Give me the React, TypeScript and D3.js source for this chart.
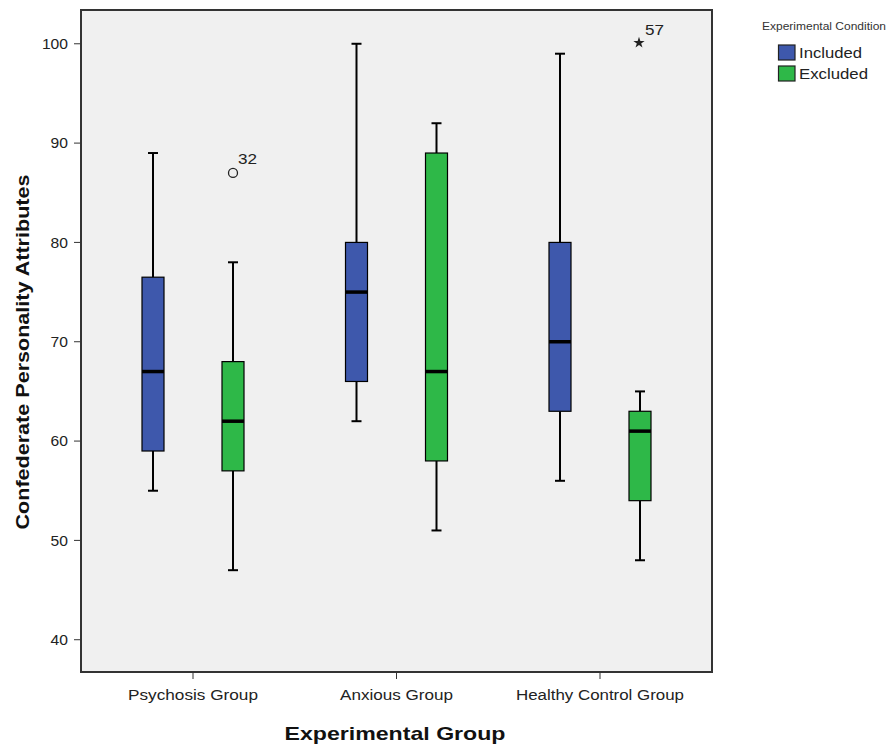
import React from "react";
import * as d3 from "d3";

const groups = ["Psychosis Group", "Anxious Group", "Healthy Control Group"];
const groupLabelWidths = [130, 113, 168];
const conditions = ["Included", "Excluded"];
const conditionColors = ["#3e58ac", "#2eb848"];
// [group, condition, whiskerLow, q1, median, q3, whiskerHigh]
const boxStats: [number, number, number, number, number, number, number][] = [
  [0, 0, 55, 59, 67, 76.5, 89],
  [0, 1, 47, 57, 62, 68, 78],
  [1, 0, 62, 66, 75, 80, 100],
  [1, 1, 51, 58, 67, 89, 92],
  [2, 0, 56, 63, 70, 80, 99],
  [2, 1, 48, 54, 61, 63, 65],
];
// [group, condition, value, label, type]
const outliers: [number, number, number, string, string][] = [
  [0, 1, 87, "32", "circle"],
  [2, 1, 100, "57", "star"],
];
const yTicks = [40, 50, 60, 70, 80, 90, 100];

export default function App() {
  const W = 888, H = 745;
  const left = 81, right = 712, top = 10, bottom = 672;
  const y = d3.scaleLinear().domain([36.75, 103.4]).range([bottom, top]);
  const x = d3.scalePoint<string>().domain(groups).range([193, 600]);
  const off = 40, bw = 22, cap = 5;
  const font = "Arial, 'Liberation Sans', sans-serif";
  const star = d3.symbol().type(d3.symbolStar).size(40)() as string;

  return (
    <svg width={W} height={H} style={{ position: "absolute", left: 0, top: 0 }} fontFamily={font}>
      <rect x={0} y={0} width={W} height={H} fill="#fff" />
      <rect x={left} y={top} width={right - left} height={bottom - top} fill="#f0f0f0" stroke="#333" strokeWidth={2} />
      {yTicks.map((t) => (
        <g key={t}>
          <line x1={left - 7} x2={left} y1={y(t)} y2={y(t)} stroke="#333" strokeWidth={1} />
          <text x={left - 13} y={y(t)} dy="0.36em" textAnchor="end" fontSize={14.5} fill="#222"
            textLength={String(t).length * 8.7} lengthAdjust="spacingAndGlyphs">{t}</text>
        </g>
      ))}
      {groups.map((g, i) => (
        <g key={g}>
          <line x1={x(g)} x2={x(g)} y1={bottom} y2={bottom + 7} stroke="#333" strokeWidth={1} />
          <text x={x(g)} y={bottom + 28} textAnchor="middle" fontSize={15.5} fill="#222"
            textLength={groupLabelWidths[i]} lengthAdjust="spacingAndGlyphs">{g}</text>
        </g>
      ))}
      {boxStats.map(([gi, ci, lo, q1, med, q3, hi], i) => {
        const cx = (x(groups[gi]) as number) + (ci === 0 ? -off : off);
        return (
          <g key={i}>
            <line x1={cx} x2={cx} y1={y(hi)} y2={y(q3)} stroke="#000" strokeWidth={2} />
            <line x1={cx} x2={cx} y1={y(q1)} y2={y(lo)} stroke="#000" strokeWidth={2} />
            <line x1={cx - cap} x2={cx + cap} y1={y(hi)} y2={y(hi)} stroke="#000" strokeWidth={2} />
            <line x1={cx - cap} x2={cx + cap} y1={y(lo)} y2={y(lo)} stroke="#000" strokeWidth={2} />
            <rect x={cx - bw / 2} y={y(q3)} width={bw} height={y(q1) - y(q3)} fill={conditionColors[ci]} stroke="#000" strokeWidth={1.2} />
            <line x1={cx - bw / 2} x2={cx + bw / 2} y1={y(med)} y2={y(med)} stroke="#000" strokeWidth={3.5} />
          </g>
        );
      })}
      {outliers.map(([gi, ci, v, label, type], i) => {
        const cx = (x(groups[gi]) as number) + (ci === 0 ? -off : off);
        return (
          <g key={i}>
            {type === "circle" ? (
              <circle cx={cx} cy={y(v)} r={4.5} fill="none" stroke="#222" strokeWidth={1.3} />
            ) : (
              <path d={star} transform={`translate(${cx - 1},${y(v) - 1})`} fill="#222" />
            )}
            <text x={cx + 5} y={y(v) - 9} fontSize={15} fill="#222"
              textLength={19} lengthAdjust="spacingAndGlyphs">{label}</text>
          </g>
        );
      })}
      <text transform={`translate(29,352) rotate(-90)`} textAnchor="middle" fontSize={19} fontWeight="bold" fill="#111"
        textLength={355} lengthAdjust="spacingAndGlyphs">
        Confederate Personality Attributes
      </text>
      <text x={395} y={740} textAnchor="middle" fontSize={19} fontWeight="bold" fill="#111"
        textLength={221} lengthAdjust="spacingAndGlyphs">Experimental Group</text>
      <text x={762} y={30} fontSize={10} fill="#333" textLength={124} lengthAdjust="spacingAndGlyphs">Experimental Condition</text>
      {conditions.map((c, i) => (
        <g key={c}>
          <rect x={778.5} y={45 + i * 21} width={16.5} height={15} fill={conditionColors[i]} stroke="#222" strokeWidth={1.2} />
          <text x={799} y={58 + i * 21} fontSize={15} fill="#222"
            textLength={i === 0 ? 63 : 69} lengthAdjust="spacingAndGlyphs">{c}</text>
        </g>
      ))}
    </svg>
  );
}
